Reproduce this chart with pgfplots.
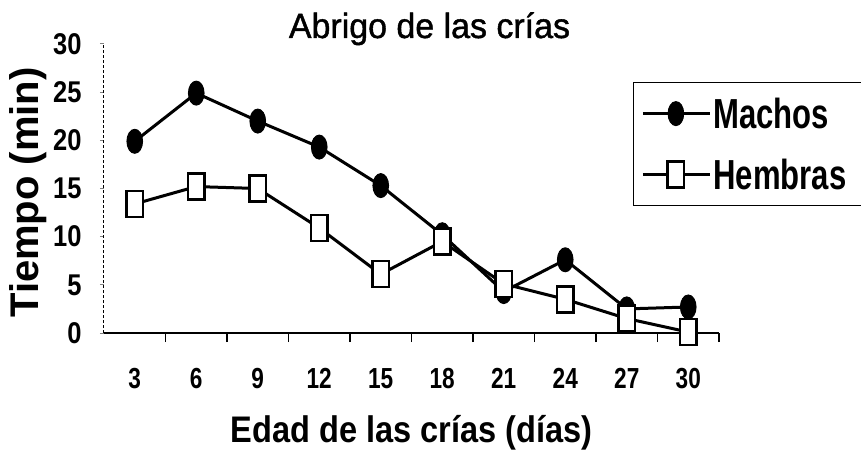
\documentclass[border=0pt]{standalone}
\usepackage{fontspec}
\usepackage{pgfplots}
\pgfplotsset{compat=1.18}
\newfontfamily\ytickfont[FakeStretch=0.85]{Liberation Sans}
\newfontfamily\xtickfont[FakeStretch=0.78]{Liberation Sans}
\newfontfamily\labfont[FakeStretch=0.88]{Liberation Sans}
\newfontfamily\ylabfont{Liberation Sans}
\newfontfamily\titfont[FakeStretch=0.97,FakeBold=1.2]{Liberation Sans}
\newfontfamily\legfont[FakeStretch=0.74]{Liberation Sans}
\begin{document}
\begin{tikzpicture}
\begin{axis}[
  name=ax,
  scale only axis,
  width=615pt, height=289pt,
  xmin=1.5, xmax=31.5, ymin=0, ymax=30,
  axis x line=bottom, axis y line=left,
  axis line style={-},
  x axis line style={line width=1.5pt},
  y axis line style={line width=1pt, densely dashed},
  xtick={3,6,...,30},
  xticklabels={3,6,9,12,15,18,21,24,27,30},
  minor xtick={4.5,7.5,...,31.5},
  ytick={0,5,...,30},
  yticklabels={0,5,10,15,20,25,30},
  tick align=outside,
  major tick length=4pt,
  minor tick length=9pt,
  x tick style={draw=none},
  minor x tick style={draw=black, line width=1.2pt},
  y tick style={line width=1pt},
  xticklabel style={font=\xtickfont\bfseries\fontsize{29}{29}\selectfont, yshift=-28pt},
  yticklabel style={font=\ytickfont\bfseries\fontsize{30}{30}\selectfont, xshift=-15pt},
  xlabel={Edad de las crías (días)},
  ylabel={Tiempo (min)},
  xlabel style={font=\labfont\bfseries\fontsize{37}{37}\selectfont, at={(axis description cs:0.5,0)}, anchor=base, yshift=-109pt},
  ylabel style={font=\ylabfont\bfseries\fontsize{40}{40}\selectfont, at={(axis description cs:0,0.5)}, anchor=center, yshift=76pt, xshift=-4pt},
  title={Abrigo de las crías},
  title style={font=\titfont\fontsize{35}{35}\selectfont, at={(axis description cs:0.5,1)}, anchor=base, yshift=0pt, xshift=18pt},
  legend style={at={(rel axis cs:0.860,0.868)}, anchor=north west, draw=black, line width=1pt,
    font=\legfont\bfseries\fontsize{42}{42}\selectfont, row sep=25pt, inner xsep=8pt, inner ysep=13pt},
  legend cell align=left,
  legend image code/.code={\draw[mark repeat=2,mark phase=2,#1] plot coordinates {(0pt,0pt) (33pt,0pt) (67pt,0pt)};},
]
\addplot[black, line width=3pt, mark=*, mark size=12pt, mark options={solid, xscale=0.65, line width=1pt, fill=black}]
  coordinates {(3,19.9) (6,24.9) (9,22.0) (12,19.3) (15,15.3) (18,10.2) (21,4.3) (24,7.6) (27,2.5) (30,2.7)};
\addlegendentry{Machos\hspace*{30pt}}
\addplot[black, line width=3pt, mark=square*, mark size=13pt, mark options={solid, xscale=0.63, line width=2.5pt, fill=white}]
  coordinates {(3,13.4) (6,15.2) (9,15.0) (12,10.9) (15,6.1) (18,9.5) (21,5.1) (24,3.5) (27,1.5) (30,0.1)};
\addlegendentry{Hembras\hspace*{30pt}}
\end{axis}
\pgfresetboundingbox
\path[use as bounding box] ([shift={(-104pt,-119pt)}]ax.south west) rectangle ([shift={(757pt,333pt)}]ax.south west);
\end{tikzpicture}
\end{document}
